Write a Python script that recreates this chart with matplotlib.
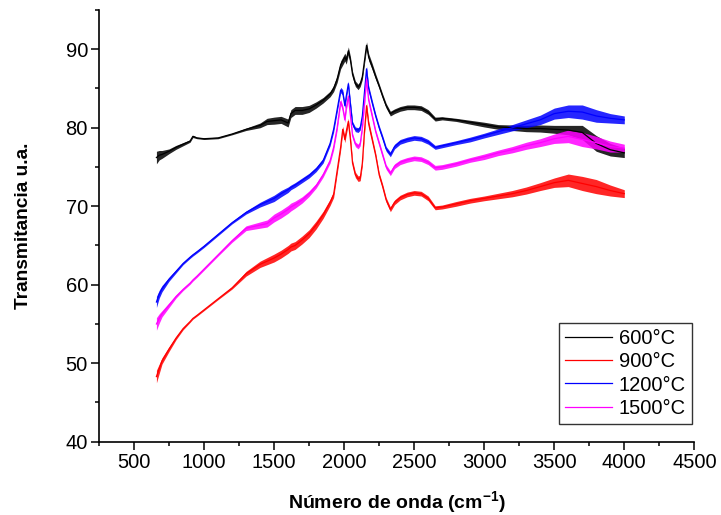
import numpy as np
import matplotlib
matplotlib.use("Agg")
import matplotlib.pyplot as plt
from matplotlib.ticker import MultipleLocator

plt.rcParams['font.family'] = ['Liberation Sans', 'DejaVu Sans']
plt.rcParams['mathtext.fontset'] = 'custom'
plt.rcParams['mathtext.rm'] = 'Liberation Sans'
plt.rcParams['mathtext.bf'] = 'Liberation Sans:bold'

# wavenumber grid (cm-1)
wavenumber = [660, 680, 700, 750, 800, 850, 900, 920, 950, 1000, 1100, 1200, 1300, 1400,
              1450, 1500, 1550, 1600, 1620, 1650, 1700, 1750, 1800, 1850, 1900, 1925,
              1950, 1975, 1990, 2005, 2015, 2030, 2045, 2060, 2080, 2100, 2115, 2130,
              2145, 2160, 2175, 2200, 2225, 2250, 2275, 2300, 2330, 2360, 2400, 2450,
              2500, 2550, 2600, 2650, 2700, 2800, 2900, 3000, 3100, 3200, 3300, 3400,
              3500, 3600, 3700, 3800, 3900, 4000]

t600 = [76.2, 76.5, 76.6, 77.0, 77.5, 77.9, 78.3, 78.9, 78.7, 78.6, 78.7, 79.2, 79.8, 80.3,
        80.8, 80.9, 81.0, 80.6, 81.8, 82.2, 82.2, 82.4, 82.9, 83.5, 84.3, 85.0,
        86.2, 88.0, 88.5, 89.0, 88.6, 89.8, 88.6, 86.8, 85.6, 85.2, 85.6, 86.5,
        88.5, 90.5, 89.0, 87.8, 86.5, 85.3, 84.0, 82.8, 81.8, 82.1, 82.4, 82.6,
        82.6, 82.5, 82.0, 81.1, 81.2, 81.0, 80.7, 80.4, 80.1, 80.0, 79.9, 79.9,
        79.8, 79.7, 79.4, 78.0, 77.2, 76.8]

t900 = [48.3, 49.3, 50.3, 51.8, 53.2, 54.4, 55.3, 55.7, 56.1, 56.8, 58.2, 59.6, 61.4, 62.6,
        63.0, 63.4, 63.9, 64.5, 64.8, 65.0, 65.7, 66.5, 67.6, 68.9, 70.5, 71.5,
        74.5, 77.5, 79.8, 78.5, 79.5, 80.8, 78.5, 75.5, 74.0, 73.5, 73.6, 75.5,
        79.5, 82.8, 80.5, 78.5, 76.5, 74.0, 72.5, 70.8, 69.6, 70.5, 71.1, 71.5,
        71.7, 71.6, 71.0, 69.8, 69.9, 70.3, 70.7, 71.0, 71.3, 71.6, 72.0, 72.5,
        73.0, 73.3, 72.9, 72.5, 72.0, 71.6]

t1200 = [57.8, 58.8, 59.5, 60.7, 61.7, 62.7, 63.5, 63.8, 64.2, 64.9, 66.4, 67.9, 69.2, 70.2,
         70.6, 71.0, 71.6, 72.1, 72.4, 72.7, 73.3, 73.9, 74.7, 75.8, 78.0, 79.8,
         82.3, 84.8, 84.5, 82.8, 84.0, 85.6, 83.0, 80.5, 79.8, 79.7, 80.0, 81.5,
         84.5, 87.5, 85.0, 83.2, 81.5, 80.0, 78.7, 77.3, 76.6, 77.6, 78.2, 78.5,
         78.7, 78.6, 78.2, 77.5, 77.7, 78.1, 78.5, 79.0, 79.5, 80.0, 80.5, 81.0,
         81.8, 82.1, 82.0, 81.5, 81.2, 81.0]

t1500 = [55.0, 55.7, 56.3, 57.4, 58.5, 59.4, 60.2, 60.6, 61.1, 62.0, 63.8, 65.6, 67.2, 67.6,
         67.8, 68.5, 69.0, 69.6, 69.9, 70.2, 70.8, 71.6, 72.6, 74.0, 75.8, 77.5,
         80.0, 83.3, 82.5, 81.0, 82.5, 84.0, 81.5, 79.0, 77.9, 77.6, 78.0, 80.0,
         83.0, 86.2, 83.5, 81.5, 79.5, 78.0, 76.5, 75.0, 74.2, 75.1, 75.6, 75.9,
         76.1, 76.0, 75.6, 74.9, 75.0, 75.4, 75.9, 76.3, 76.8, 77.2, 77.7, 78.1,
         78.6, 78.9, 78.5, 78.1, 77.6, 77.4]

# visible noise half-width of each trace
n600 = [0.8, 0.6, 0.5, 0.3, 0.25, 0.2, 0.15, 0.15, 0.1, 0.1, 0.1, 0.1, 0.15, 0.3,
        0.4, 0.45, 0.45, 0.5, 0.5, 0.5, 0.5, 0.45, 0.4, 0.35, 0.35, 0.4,
        0.45, 0.5, 0.5, 0.5, 0.5, 0.5, 0.45, 0.4, 0.35, 0.35, 0.35, 0.35,
        0.4, 0.45, 0.45, 0.4, 0.35, 0.3, 0.3, 0.3, 0.3, 0.3, 0.3, 0.3,
        0.3, 0.3, 0.3, 0.25, 0.2, 0.2, 0.25, 0.3, 0.3, 0.35, 0.4, 0.45,
        0.5, 0.6, 0.9, 1.0, 0.8, 0.6]
n900 = [0.8, 0.6, 0.4, 0.3, 0.2, 0.15, 0.1, 0.1, 0.1, 0.1, 0.1, 0.15, 0.3, 0.4,
        0.45, 0.5, 0.5, 0.5, 0.5, 0.5, 0.5, 0.5, 0.5, 0.45, 0.4, 0.4,
        0.4, 0.4, 0.4, 0.4, 0.4, 0.4, 0.4, 0.35, 0.35, 0.35, 0.35, 0.35,
        0.4, 0.4, 0.4, 0.35, 0.3, 0.3, 0.3, 0.3, 0.3, 0.3, 0.3, 0.3,
        0.3, 0.3, 0.3, 0.25, 0.25, 0.3, 0.3, 0.3, 0.35, 0.4, 0.45, 0.5,
        0.6, 0.8, 0.9, 0.9, 0.7, 0.5]
n1200 = [0.7, 0.5, 0.4, 0.25, 0.2, 0.15, 0.15, 0.15, 0.15, 0.15, 0.15, 0.15, 0.2, 0.3,
         0.35, 0.4, 0.4, 0.35, 0.3, 0.3, 0.3, 0.3, 0.3, 0.3, 0.3, 0.35,
         0.35, 0.35, 0.35, 0.35, 0.35, 0.35, 0.35, 0.3, 0.3, 0.3, 0.3, 0.3,
         0.35, 0.35, 0.35, 0.35, 0.3, 0.3, 0.3, 0.3, 0.3, 0.3, 0.3, 0.3,
         0.3, 0.3, 0.3, 0.25, 0.25, 0.25, 0.3, 0.3, 0.35, 0.4, 0.5, 0.6,
         0.7, 0.8, 0.9, 0.8, 0.6, 0.5]
n1500 = [0.8, 0.6, 0.4, 0.3, 0.2, 0.15, 0.15, 0.15, 0.15, 0.15, 0.15, 0.2, 0.3, 0.4,
         0.45, 0.5, 0.5, 0.5, 0.5, 0.45, 0.4, 0.35, 0.3, 0.3, 0.3, 0.35,
         0.35, 0.35, 0.35, 0.35, 0.35, 0.35, 0.35, 0.3, 0.3, 0.3, 0.3, 0.3,
         0.35, 0.35, 0.35, 0.35, 0.3, 0.3, 0.3, 0.3, 0.3, 0.3, 0.3, 0.3,
         0.3, 0.3, 0.3, 0.3, 0.3, 0.3, 0.3, 0.35, 0.35, 0.4, 0.45, 0.5,
         0.6, 0.8, 0.9, 0.8, 0.7, 0.5]

labels = ['600°C', '900°C', '1200°C', '1500°C']
colors = ['#000000', '#ff0000', '#0000ff', '#ff00ff']
series = [t600, t900, t1200, t1500]
noises = [n600, n900, n1200, n1500]

fig = plt.figure(figsize=(7.21, 5.15), dpi=100)
ax = fig.add_axes([0.1373, 0.1423, 0.8257, 0.8383])

x = np.array(wavenumber, dtype=float)
for y, n, c, lab in zip(series, noises, colors, labels):
    y = np.array(y)
    n = np.array(n)
    ax.fill_between(x, y - n, y + n, color=c, linewidth=0, alpha=0.85)
    ax.plot(x, y, color=c, lw=0.9, label=lab)

ax.set_xlim(250, 4500)
ax.set_ylim(40, 95)
ax.xaxis.set_minor_locator(MultipleLocator(250))
ax.yaxis.set_minor_locator(MultipleLocator(5))
ax.set_xticks([500, 1000, 1500, 2000, 2500, 3000, 3500, 4000, 4500])
ax.set_yticks([40, 50, 60, 70, 80, 90])

for s in ['top', 'right']:
    ax.spines[s].set_visible(False)
for s in ['left', 'bottom']:
    ax.spines[s].set_linewidth(1.2)

ax.tick_params(axis='both', which='major', direction='out', length=5.5, width=1.1,
               labelsize=14.5, pad=2.5)
ax.tick_params(axis='both', which='minor', direction='out', length=3, width=1.1)

ax.set_xlabel('Número de onda (cm$^{\\mathbf{-1}}$)', fontsize=14, fontweight='bold', labelpad=13)
ax.set_ylabel('Transmitancia u.a.', fontsize=13.8, fontweight='bold', labelpad=24)

leg = ax.legend(loc='lower right', bbox_to_anchor=(0.996, 0.041), frameon=True,
                fancybox=False, edgecolor='black', fontsize=14.5, handlelength=2.3,
                handletextpad=0.35, labelspacing=0.22, borderpad=0.3, borderaxespad=0)
leg.get_frame().set_linewidth(1.0)

fig.savefig('out.png', dpi=100)
